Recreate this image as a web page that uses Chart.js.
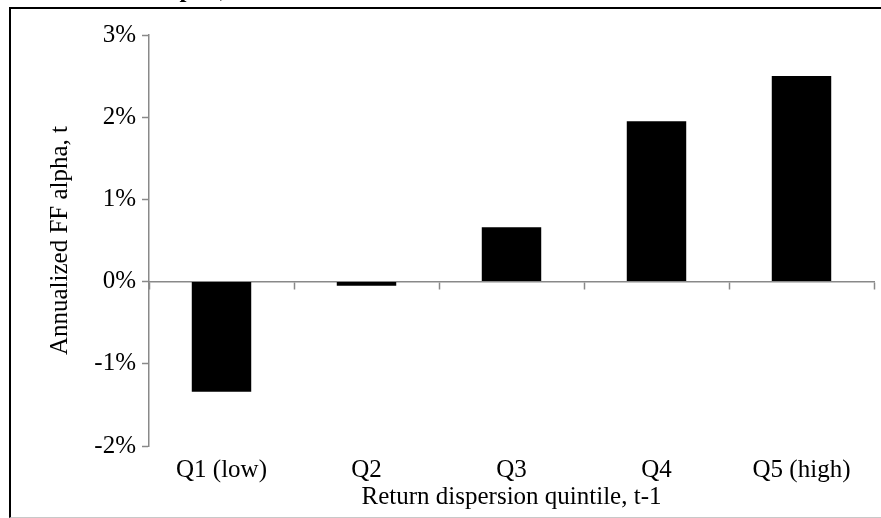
<!DOCTYPE html>
<html>
<head>
<meta charset="utf-8">
<script src="https://cdn.jsdelivr.net/npm/chart.js@4.4.1/dist/chart.umd.min.js"></script>
<style>
  html, body { margin: 0; padding: 0; background: #fff; overflow: hidden; }
  #wrap { position: relative; width: 881px; height: 518px; }
  #chart { position: absolute; left: 0; top: 0; }
  /* frame of the figure, cut by the page edges */
  #frame {
    position: absolute; left: 9px; top: 7px; width: 900px; height: 508px;
    border-left: 2px solid #000; border-top: 2px solid #000; border-bottom: 1px solid #c8c8c8;
    pointer-events: none;
  }
  /* caption above, only its descenders show */
  #cap {
    position: absolute; left: 160px; top: -25px;
    font: bold 25px "Liberation Serif", serif; color: #000; white-space: nowrap;
  }
</style>
</head>
<body>
<div id="wrap">
  <canvas id="chart" width="881" height="518"></canvas>
  <div id="frame"></div>
  <div id="cap">alpha,</div>
</div>
<script>
// 데이터
const quintiles = ['Q1 (low)', 'Q2', 'Q3', 'Q4', 'Q5 (high)'];
const alphaValues = [-1.34, -0.05, 0.66, 1.95, 2.50];
const yTicks = [-2, -1, 0, 1, 2, 3];

const serif = '"Liberation Serif", "Times New Roman", serif';
const axisGrey = '#898989';

new Chart(document.getElementById('chart'), {
  type: 'bar',
  data: {
    labels: quintiles,
    datasets: [{
      data: alphaValues,
      backgroundColor: '#000',
      borderWidth: 0,
      barPercentage: 0.41,
      categoryPercentage: 1.0
    }]
  },
  options: {
    responsive: false,
    animation: false,
    layout: { padding: { left: 0, top: 35, right: 7, bottom: 6 } },
    plugins: { legend: { display: false }, tooltip: { enabled: false } },
    scales: {
      x: {
        grid: { display: false, drawTicks: false },
        border: { display: false },
        ticks: { color: '#000', font: { family: serif, size: 25 }, padding: 9 },
        title: {
          display: true, text: 'Return dispersion quintile, t-1', color: '#000',
          font: { family: serif, size: 25 }, padding: 0
        },
        afterFit: (s) => { s.height = 518 - 6 - 446; }
      },
      // 0% 위치의 가로축 (눈금만)
      x2: {
        type: 'category',
        labels: quintiles,
        position: { y: 0 },
        offset: true,
        z: 1,
        grid: { offset: true, drawOnChartArea: false, drawTicks: true, tickLength: 7, tickColor: axisGrey, tickWidth: 1.5 },
        border: { display: true, color: axisGrey, width: 1.5 },
        ticks: { display: false }
      },
      y: {
        min: -2, max: 3,
        afterBuildTicks: (s) => { s.ticks = yTicks.map(v => ({ value: v })); },
        grid: { drawOnChartArea: false, tickLength: 7, tickColor: axisGrey, tickWidth: 1.5 },
        border: { display: true, color: axisGrey, width: 1.5 },
        ticks: {
          color: '#000', font: { family: serif, size: 25 }, padding: 6,
          callback: (v) => v + '%'
        },
        title: {
          display: true, text: 'Annualized FF alpha, t', color: '#000',
          font: { family: serif, size: 25 }, padding: { top: 45, bottom: 0 }
        },
        afterFit: (s) => { s.width = 149; }
      }
    }
  }
});
</script>
</body>
</html>
